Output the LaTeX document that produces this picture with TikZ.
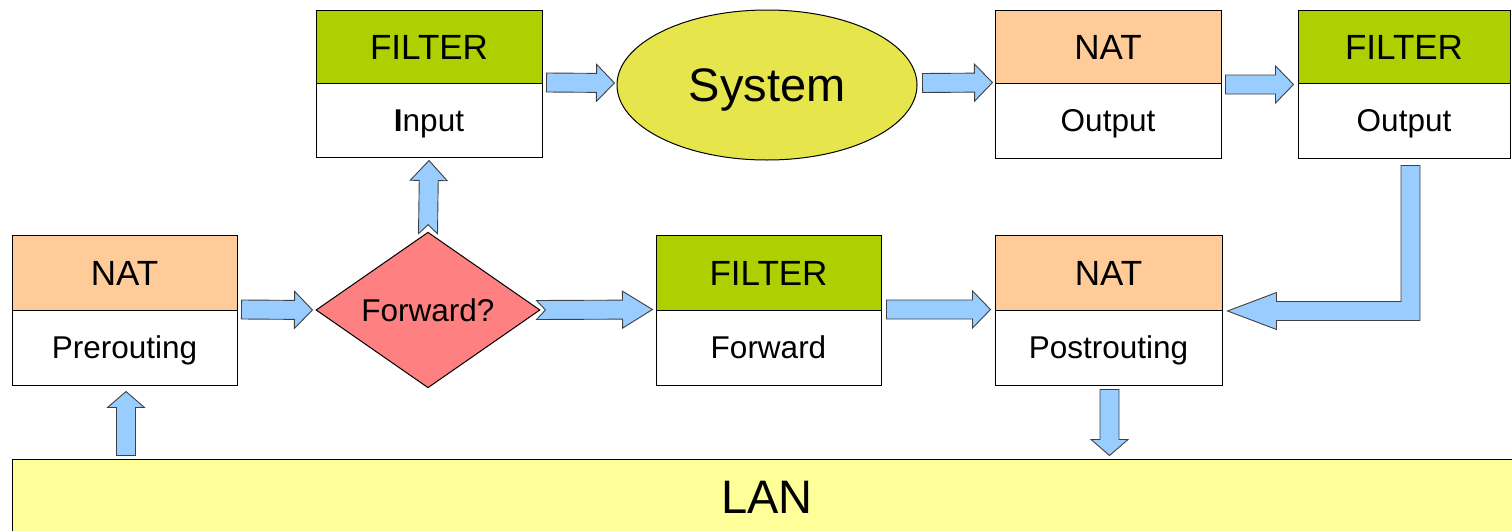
\documentclass[tikz,border=0pt]{standalone}
\usepackage{fontspec}
\setmainfont{Liberation Sans}
\usetikzlibrary{shapes.geometric,calc}

\definecolor{natc}{HTML}{FFCC99}
\definecolor{filc}{HTML}{AECF00}
\definecolor{sysc}{HTML}{E6E64C}
\definecolor{diac}{HTML}{FF8080}
\definecolor{lanc}{HTML}{FFFF99}
\definecolor{arrowfill}{HTML}{99CCFF}
\definecolor{arrowline}{HTML}{404040}

\newcommand{\headfont}{\fontsize{35}{42}\selectfont}
\newcommand{\bodyfont}{\fontsize{31.5}{38}\selectfont}
\newcommand{\bigfont}{\fontsize{47}{56}\selectfont}

\tikzset{
  % labels are centred on their capital height
  headtext/.style={font=\headfont, text height=25.1pt, text depth=0pt},
  bodytext/.style={font=\bodyfont, text height=22.6pt, text depth=0pt},
  bigtext/.style={font=\bigfont, text height=33.7pt, text depth=0pt},
  band/.style={draw=black, line width=1pt, inner sep=0pt, minimum height=75pt},
  headband/.style={band, headtext},
  bodyband/.style={band, fill=white, bodytext},
  fat/.style={draw=arrowline, fill=arrowfill, line width=0.9pt, line join=miter},
  headlen/.store in=\headlen, headlen=18,
  notch/.store in=\notchd, notch=0,
  % block arrow drawn from the start point to the target point
  blockarrow/.style={to path={
    let \p1=(\tikztostart), \p2=(\tikztotarget),
        \n1={atan2(\y2-\y1,\x2-\x1)}, \n2={veclen(\x2-\x1,\y2-\y1)} in
    {[shift={(\p1)}, rotate=\n1]
      (0,9.5) -- (\n2-\headlen,9.5) -- (\n2-\headlen,18.5) -- (\n2,0)
      -- (\n2-\headlen,-18.5) -- (\n2-\headlen,-9.5) -- (0,-9.5) -- (\notchd,0) -- cycle}
  }},
}

\begin{document}
\begin{tikzpicture}[x=1pt,y=-1pt]
\clip (0,0) rectangle (1512,530);
\useasboundingbox (0,0) rectangle (1512,530);

% NAT prerouting
\node[headband, fill=natc, minimum width=225pt] (preT) at (124.5,272.5) {NAT};
\node[bodyband, minimum width=225pt] (preB) at (124.5,347.5) {Prerouting};

% routing decision
\node[draw=black, line width=1pt, fill=diac, shape=diamond, inner sep=0pt,
      minimum width=224pt, minimum height=150pt, bodytext] (fwd) at (428,310) {Forward?};

% FILTER input
\node[headband, fill=filc, minimum width=226pt, minimum height=73pt] (inpT) at (429,46.5) {FILTER};
\node[bodyband, minimum width=226pt, minimum height=74pt] (inpB) at (429,120) {\textbf{I}nput};

% local system
\node[draw=black, line width=1pt, fill=sysc, ellipse, inner sep=0pt,
      minimum width=300pt, minimum height=150pt, bigtext] (sys) at (767,85) {System};

% NAT output
\node[headband, fill=natc, minimum width=226pt, minimum height=73pt] (noutT) at (1108,46.5) {NAT};
\node[bodyband, minimum width=226pt, minimum height=75pt] (noutB) at (1108,120.5) {Output};

% FILTER output
\node[headband, fill=filc, minimum width=212pt, minimum height=73pt] (foutT) at (1404,46.5) {FILTER};
\node[bodyband, minimum width=212pt, minimum height=75pt] (foutB) at (1404,120.5) {Output};

% FILTER forward
\node[headband, fill=filc, minimum width=225pt] (ffwdT) at (768.5,272.5) {FILTER};
\node[bodyband, minimum width=225pt] (ffwdB) at (768.5,347.5) {Forward};

% NAT postrouting
\node[headband, fill=natc, minimum width=227pt] (postT) at (1108.5,272.5) {NAT};
\node[bodyband, minimum width=227pt] (postB) at (1108.5,347.5) {Postrouting};

% LAN
\node[draw=black, line width=1pt, fill=lanc, inner sep=0pt,
      minimum width=1510pt, minimum height=76pt, bigtext] (lan) at (767,497) {LAN};

% connectors
\draw[fat] ($(preB.north east)+(4,0)$) to[blockarrow] ($(fwd.west)+(-3,0)$);
\draw[fat, notch=9, headlen=30] ($(fwd.east)+(-4,0)$) to[blockarrow] ($(ffwdB.north west)+(-3,0)$);
\draw[fat, notch=9, headlen=20] ($(fwd.north)+(0,2)$) to[blockarrow] ($(inpB.south)+(0,3)$);
\draw[fat] ($(inpB.north east)+(4,0)$) to[blockarrow] ($(sys.west)+(-2,-2)$);
\draw[fat] ($(sys.east)+(5,-2)$) to[blockarrow] ($(noutB.north west)+(-2,0)$);
\draw[fat] ($(noutB.north east)+(4,2)$) to[blockarrow] ($(foutB.north west)+(-4,2)$);
\draw[fat] ($(ffwdB.north east)+(5,0)$) to[blockarrow] ($(postB.north west)+(-4,0)$);
\draw[fat, headlen=16] ($(lan.north -| preB.south)+(1.5,-3)$) to[blockarrow] ($(preB.south)+(1.5,6)$);
\draw[fat, headlen=16] ($(postB.south)+(1,4)$) to[blockarrow] ($(lan.north -| postB.south)+(1,-3)$);

% elbow connector from FILTER output down to NAT postrouting
\coordinate (eTop) at ($(foutB.south)+(6.5,7)$);
\coordinate (eTip) at ($(postB.north east)+(5,1.5)$);
\draw[fat] let \p1=(eTop), \p2=(eTip) in
  (\x1-9.5pt,\y1) -- (\x1+9.5pt,\y1) -- (\x1+9.5pt,\y2-9.5pt)
  -- (\x2+49pt,\y2-9.5pt) -- (\x2+49pt,\y2-18.5pt) -- (\x2,\y2)
  -- (\x2+49pt,\y2+18.5pt) -- (\x2+49pt,\y2+9.5pt) -- (\x1-9.5pt,\y2+9.5pt) -- cycle;
\end{tikzpicture}
\end{document}
